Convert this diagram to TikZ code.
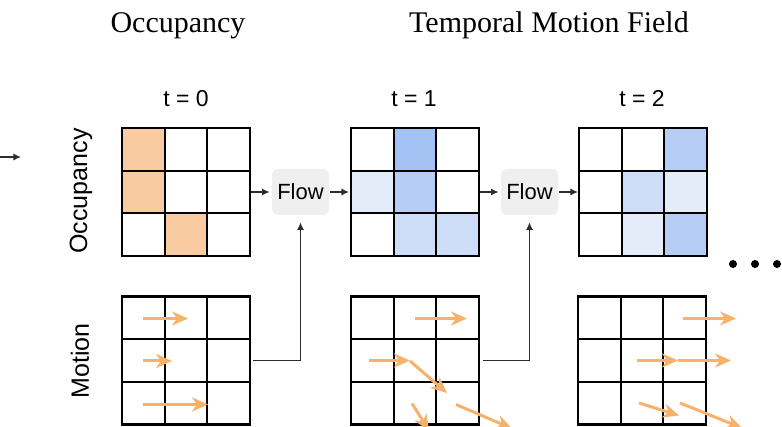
\documentclass[tikz,border=0pt]{standalone}
\usepackage{fontspec}
\setmainfont{Liberation Serif}
\setsansfont{Liberation Sans}
\usetikzlibrary{arrows.meta}

\definecolor{occorange}{RGB}{248,204,160}
\definecolor{blueA}{RGB}{164,194,244}
\definecolor{blueB}{RGB}{182,205,245}
\definecolor{blueC}{RGB}{205,220,247}
\definecolor{blueD}{RGB}{228,236,250}
\definecolor{flowgray}{RGB}{239,239,239}
\definecolor{linkgray}{RGB}{45,45,45}
\definecolor{vecorange}{RGB}{246,178,107}

% fill one cell (column, row) of a 3x3 grid node
\newcommand{\gridcell}[4]{%
  \fill[#4] (#1.north west) ++({#2*128/3},{#3*128/3}) rectangle ++({128/3},{128/3});}
% inner lines and outline of a 3x3 grid node
\newcommand{\gridlines}[1]{%
  \foreach \k in {1,2}{%
    \draw[gridline] (#1.north west) ++({\k*128/3},0) -- ++(0,128);
    \draw[gridline] (#1.north west) ++(0,{\k*128/3}) -- ++(128,0);}
  \draw[gridline] (#1.north west) rectangle (#1.south east);}
% a motion vector inside a grid node, given start and displacement
\newcommand{\motionarrow}[5]{%
  \draw[motionvec] (#1.north west) ++(#2,#3) -- ++(#4,#5);}

\begin{document}
\begin{tikzpicture}[x=0.5pt,y=-0.5pt,
  gridbox/.style={minimum size=64pt,inner sep=0pt,outer sep=0pt},
  gridline/.style={draw=black,line width=1.05pt},
  flowbox/.style={fill=flowgray,rounded corners=3pt,minimum width=28.5pt,
    minimum height=23pt,inner sep=0pt,font=\sffamily\fontsize{11}{13}\selectfont},
  link/.style={draw=linkgray,line width=0.65pt,-{Latex[length=3.8pt,width=3.6pt]}},
  motionvec/.style={draw=vecorange,line width=1.5pt,
    -{Stealth[length=8pt,width=7pt,inset=2.5pt]}},
  title/.style={font=\fontsize{15}{18}\selectfont,anchor=base},
  tlabel/.style={font=\sffamily\fontsize{11.5}{14}\selectfont,anchor=base},
  rowlabel/.style={font=\sffamily\fontsize{12.5}{15}\selectfont,rotate=90,inner sep=0pt},
]
\clip (0,0) rectangle (782,427);

% headings
\node[title] (hocc) at (178,33) {Occupancy};
\node[title] (htmf) at (549,33) {Temporal Motion Field};

% row labels
\node[rowlabel] (rocc) at (81,191) {Occupancy};
\node[rowlabel] (rmot) at (80,361) {Motion};

% occupancy grids
\node[gridbox] (o0) at (186,192) {};
\node[gridbox] (o1) at (415,192) {};
\node[gridbox] (o2) at (643,192) {};
% motion grids
\node[gridbox] (m0) at (186,360.5) {};
\node[gridbox] (m1) at (415,360.5) {};
\node[gridbox] (m2) at (642,360.5) {};

% time labels
\node[tlabel] (t0) at (186,107) {t = 0};
\node[tlabel] (t1) at (414,107) {t = 1};
\node[tlabel] (t2) at (642,107) {t = 2};

% occupied cells
\gridcell{o0}{0}{0}{occorange}
\gridcell{o0}{0}{1}{occorange}
\gridcell{o0}{1}{2}{occorange}

\gridcell{o1}{1}{0}{blueA}
\gridcell{o1}{0}{1}{blueD}
\gridcell{o1}{1}{1}{blueB}
\gridcell{o1}{1}{2}{blueC}
\gridcell{o1}{2}{2}{blueC}

\gridcell{o2}{2}{0}{blueB}
\gridcell{o2}{1}{1}{blueC}
\gridcell{o2}{2}{1}{blueD}
\gridcell{o2}{1}{2}{blueD}
\gridcell{o2}{2}{2}{blueB}

\foreach \g in {o0,o1,o2,m0,m1,m2}{\gridlines{\g}}

% flow operators
\node[flowbox] (f1) at (300.5,192) {Flow};
\node[flowbox] (f2) at (529.5,192) {Flow};

% connectors
\coordinate (inA) at (0,157);
\coordinate (inB) at (21,157);
\draw[link] (inA) -- (inB);
\draw[link] ([xshift=0.5pt]o0.east) -- ([xshift=-1pt]f1.west);
\draw[link] ([xshift=0.5pt]f1.east) -- ([xshift=-1pt]o1.west);
\draw[link] ([xshift=0.5pt]o1.east) -- ([xshift=-1pt]f2.west);
\draw[link] ([xshift=0.5pt]f2.east) -- ([xshift=-0.5pt]o2.west);
\draw[link] ([xshift=1.5pt]m0.east) -| ([yshift=-3.5pt]f1.south);
\draw[link] ([xshift=2pt]m1.east) -| ([yshift=-3.5pt]f2.south);

% motion vectors
\motionarrow{m0}{21}{22}{45}{0}
\motionarrow{m0}{21}{64.5}{29}{0}
\motionarrow{m0}{21}{108}{65}{0}

\motionarrow{m1}{64}{22}{52}{0}
\motionarrow{m1}{18}{64}{41}{0}
\motionarrow{m1}{59}{64.5}{37}{32}
\motionarrow{m1}{61}{107}{17}{27}
\motionarrow{m1}{105}{108}{56}{24}

\motionarrow{m2}{105}{22}{53}{0}
\motionarrow{m2}{59}{64}{41}{0}
\motionarrow{m2}{100}{64}{53}{0}
\motionarrow{m2}{61}{106.5}{40}{12.5}
\motionarrow{m2}{102}{106.5}{62}{25}

% continuation dots
\foreach \x in {733,755,777}{\fill (\x,264) circle (4);}
\end{tikzpicture}
\end{document}
